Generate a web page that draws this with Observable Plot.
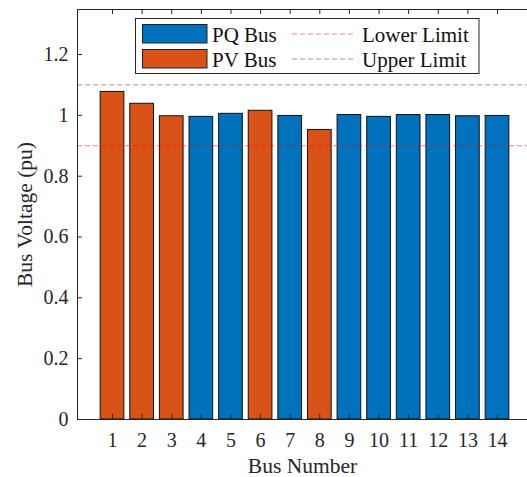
<!DOCTYPE html>
<html>
<head>
<meta charset="utf-8">
<script src="https://cdn.jsdelivr.net/npm/d3@7"></script>
<script src="https://cdn.jsdelivr.net/npm/@observablehq/plot@0.6"></script>
<style>
  html, body { margin: 0; padding: 0; background: #fff; }
  #chart { position: relative; width: 527px; height: 477px; }
  #chart svg, #chart svg text { font-family: "Liberation Serif", "DejaVu Serif", serif !important; }
</style>
</head>
<body>
<div id="chart"></div>
<script>
// ---- data ----
const buses = [1, 2, 3, 4, 5, 6, 7, 8, 9, 10, 11, 12, 13, 14];
const voltages = [1.077, 1.038, 0.997, 0.995, 1.005, 1.015, 0.998, 0.952, 1.001, 0.995, 1.001, 1.001, 0.997, 0.998];
const busTypes = ["PV", "PV", "PV", "PQ", "PQ", "PV", "PQ", "PV", "PQ", "PQ", "PQ", "PQ", "PQ", "PQ"];
const typeNames = ["PQ", "PV"];
const typeLabels = ["PQ Bus", "PV Bus"];
const typeColors = ["#0072BD", "#D95319"];
const limitNames = ["Lower Limit", "Upper Limit"];
const limitValues = [0.9, 1.1];
const yTicks = [0, 0.2, 0.4, 0.6, 0.8, 1, 1.2];
const xLabel = "Bus Number";
const yLabel = "Bus Voltage (pu)";

const data = buses.map((b, i) => ({bus: b, v: voltages[i], type: busTypes[i]}));

const W = 527, H = 477;
const mL = 77, mR = 0, mT = 9, mB = 58;
const xDomain = [-0.182, 15.013];
const yDomain = [0, 1.348];
const plotW = W - mL - mR, plotH = H - mT - mB;
const axisColor = "#262626";
const font = "Liberation Serif, DejaVu Serif, serif";
const limitStyles = [
  {stroke: "red", opacity: 0.5},
  {stroke: "#808080", opacity: 0.8}
];

const chart = Plot.plot({
  width: W, height: H,
  marginLeft: mL, marginRight: mR, marginTop: mT, marginBottom: mB,
  style: {background: "white", color: axisColor},
  x: {type: "linear", domain: xDomain, axis: null},
  y: {domain: yDomain, axis: null},
  color: {domain: typeNames, range: typeColors},
  marks: [
    Plot.rectY(data, {x1: d => d.bus - 0.4, x2: d => d.bus + 0.4, y1: 0, y2: "v", fill: "type", stroke: "#111", strokeWidth: 1}),
    ...limitValues.map((v, i) => Plot.ruleY([v], {stroke: limitStyles[i].stroke, strokeOpacity: limitStyles[i].opacity, strokeWidth: 1, strokeDasharray: "5,3"})),
    // axis lines
    Plot.ruleX([xDomain[0]], {stroke: axisColor, strokeWidth: 1}),
    Plot.ruleY([yDomain[0]], {stroke: axisColor, strokeWidth: 1}),
    Plot.ruleY([yDomain[1]], {stroke: axisColor, strokeWidth: 1}),
    // inward ticks
    Plot.ruleY(yTicks, {stroke: axisColor, insetRight: plotW - 5}),
    Plot.ruleX(buses, {stroke: axisColor, insetTop: plotH - 5}),
    Plot.ruleX(buses, {stroke: axisColor, insetBottom: plotH - 5}),
    // tick labels
    Plot.axisY(yTicks, {tickSize: 0, tickPadding: 9, fontSize: 20, tickFormat: d => String(+d.toFixed(1)),
      label: yLabel, labelAnchor: "center", labelArrow: "none", labelOffset: 61}),
    Plot.axisX(buses, {tickSize: 0, tickPadding: 13, fontSize: 20, tickFormat: d => String(d),
      label: xLabel, labelAnchor: "center", labelArrow: "none", labelOffset: 53})
  ]
});

const svg = d3.select(chart);
svg.attr("font-family", font);
svg.selectAll("g[aria-label='y-axis label'] text, g[aria-label='x-axis label'] text")
  .attr("font-size", 21.5);

// ---- legend inside plot ----
const lg = svg.append("g").attr("font-family", font).attr("font-size", 21).attr("text-anchor", "start");
lg.append("rect").attr("x", 135.5).attr("y", 18.5).attr("width", 343.5).attr("height", 55)
  .attr("fill", "white").attr("stroke", axisColor).attr("stroke-width", 1);
typeLabels.forEach((lab, i) => {
  const y0 = 24.5 + i * 25;
  lg.append("rect").attr("x", 142.5).attr("y", y0).attr("width", 64.5).attr("height", 18.5)
    .attr("fill", typeColors[i]).attr("stroke", "#222").attr("stroke-width", 1);
  lg.append("text").attr("x", 212).attr("y", y0 + 17).attr("fill", "#111").text(lab);
});
limitNames.forEach((lab, i) => {
  const y0 = 34 + i * 25;
  lg.append("line").attr("x1", 292).attr("x2", 353).attr("y1", y0).attr("y2", y0)
    .attr("stroke", limitStyles[i].stroke).attr("stroke-opacity", limitStyles[i].opacity)
    .attr("stroke-dasharray", "5,3");
  lg.append("text").attr("x", 362).attr("y", y0 + 7.5).attr("fill", "#111").text(lab);
});

document.getElementById("chart").appendChild(chart);
</script>
</body>
</html>
